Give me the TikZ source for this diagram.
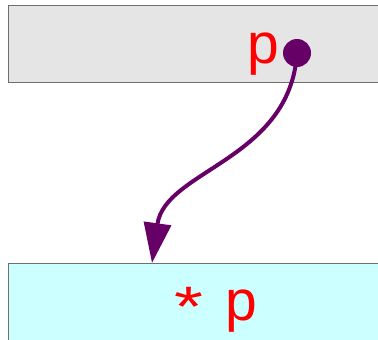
\documentclass[tikz,border=0pt]{standalone}
\usepackage{fontspec}
\setmainfont{Liberation Sans}
\usepackage{tikz}
\usetikzlibrary{arrows.meta, positioning}
\definecolor{boxgray}{RGB}{229,229,229}
\definecolor{boxcyan}{RGB}{204,255,255}
\definecolor{edgegray}{RGB}{110,110,110}
\definecolor{ptrpurple}{RGB}{102,0,102}

\begin{document}
\begin{tikzpicture}[
        x=1pt, y=-1pt,
        cell/.style={rectangle, draw=edgegray, line width=1pt, minimum width=380pt, minimum height=77pt, anchor=north west, inner sep=0pt},
        ident/.style={text=red, inner sep=0pt, font=\fontsize{57}{60}\selectfont},
        dot/.style={circle, fill=ptrpurple, minimum size=28pt, inner sep=0pt},
        arrow/.style={draw=ptrpurple, line width=4pt, -{Triangle[length=40pt, width=27pt]}}
        ]
        \useasboundingbox (0,0) rectangle (378,340);

        \node[cell, fill=boxgray] (ptrcell) at (8,5) {};
        \node[cell, fill=boxcyan] (valcell) at (8,263) {};

        \node[ident, anchor=base west] (ptrname) at (247,63) {p};
        \node[ident, anchor=base] (valname) at (216,320) {\raisebox{-6pt}{\scalebox{1.3}[1.0]{*}}\hspace{7pt} p};

        \node[dot] (ptr) at (297,53) {};
        \coordinate (target) at (152,263);
        \draw[arrow] (ptr.center) .. controls (290,160) and (165,170) .. (target);

    \end{tikzpicture}
\end{document}
